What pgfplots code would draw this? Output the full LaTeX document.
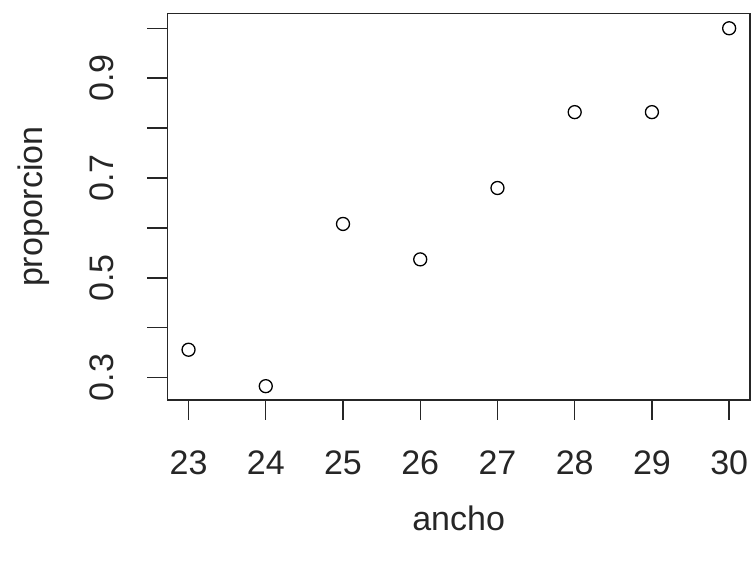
\documentclass[border=0pt]{standalone}
\usepackage{fontspec}
\setmainfont{Liberation Sans}
\usepackage{pgfplots}
\pgfplotsset{compat=1.18}
\begin{document}
\begin{tikzpicture}
\begin{axis}[
  scale only axis,
  width=582.7pt, height=386.7pt,
  at={(0,0)}, anchor=south west,
  xmin=22.725, xmax=30.27,
  ymin=0.2553, ymax=1.030,
  axis line style={line width=1.4pt, color=black!85},
  tick style={line width=1.4pt, color=black!85},
  tick align=outside,
  major tick length=20pt,
  xtick={23,24,25,26,27,28,29,30},
  xticklabels={23,24,25,26,27,28,29,30},
  ytick={0.3,0.4,0.5,0.6,0.7,0.8,0.9,1.0},
  yticklabels={0.3,,0.5,,0.7,,0.9,},
  xtick pos=bottom, ytick pos=left,
  /pgf/number format/assume math mode=true,
  ticklabel style={font=\fontsize{34}{40}\selectfont, text=black!85},
  xticklabel style={anchor=center, yshift=-43pt},
  yticklabel style={rotate=90, anchor=center, yshift=46pt},
  xlabel={ancho},
  ylabel={proporcion},
  label style={font=\fontsize{34}{40}\selectfont, text=black!85},
  xlabel style={at={(axis description cs:0.5,0)}, anchor=center, yshift=-118pt},
  ylabel style={at={(axis description cs:0,0.5)}, anchor=center, yshift=134pt},
  clip=false,
]
\addplot[only marks, mark=o, mark size=6.5pt, mark options={line width=1.3pt, draw=black}]
coordinates {
(23,0.356) (24,0.283) (25,0.608) (26,0.537) (27,0.680) (28,0.832) (29,0.832) (30,1.000)
};
\end{axis}
\pgfresetboundingbox
\useasboundingbox (-167.3pt,-161pt) rectangle (583.7pt,400pt);
\end{tikzpicture}
\end{document}
